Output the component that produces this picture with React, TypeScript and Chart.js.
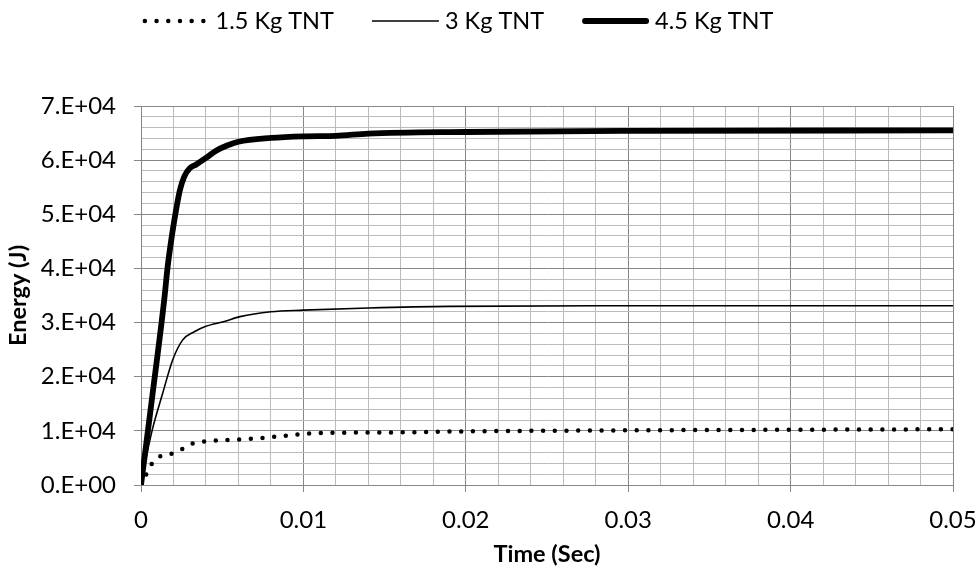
import React, { useEffect, useRef } from 'react';
import { Chart, registerables } from 'chart.js';

Chart.register(...registerables);

// ---- Data ----
const SERIES_LABELS = ['1.5 Kg TNT', '3 Kg TNT', '4.5 Kg TNT'];

const TIME_15 = [0, 0.0003, 0.00062, 0.00113, 0.0018, 0.0025, 0.0031, 0.0038, 0.0046, 0.006, 0.0075, 0.0096, 0.011, 0.015, 0.02, 0.03, 0.04, 0.05];
const ENERGY_15 = [0, 1800, 3700, 5200, 5700, 6600, 7600, 8000, 8200, 8400, 8700, 9300, 9600, 9700, 9900, 10100, 10200, 10300];

const TIME_3 = [0, 0.00035, 0.00072, 0.00133, 0.00195, 0.00257, 0.00328, 0.004, 0.00513, 0.0061, 0.008, 0.01, 0.014, 0.019, 0.03, 0.05];
const ENERGY_3 = [0, 5500, 10500, 16900, 23100, 26800, 28300, 29300, 30200, 31100, 32000, 32300, 32700, 33000, 33100, 33100];

const TIME_45 = [0, 0.0007, 0.00143, 0.00164, 0.0019, 0.00216, 0.0024, 0.00267, 0.003, 0.0034, 0.004, 0.0046, 0.0053, 0.006, 0.008, 0.01, 0.012, 0.014, 0.02, 0.03, 0.05];
const ENERGY_45 = [0, 16500, 34200, 40300, 46000, 50800, 54500, 57000, 58500, 59200, 60400, 61700, 62700, 63400, 64100, 64400, 64500, 64900, 65200, 65400, 65500];

const X_MAJOR_TICKS = [0, 0.01, 0.02, 0.03, 0.04, 0.05];
const X_MAJOR_LABELS = ['0', '0.01', '0.02', '0.03', '0.04', '0.05'];
const Y_MAJOR_TICKS = [0, 10000, 20000, 30000, 40000, 50000, 60000, 70000];
const Y_MAJOR_LABELS = ['0.E+00', '1.E+04', '2.E+04', '3.E+04', '4.E+04', '5.E+04', '6.E+04', '7.E+04'];

const X_TITLE = 'Time (Sec)';
const Y_TITLE = 'Energy (J)';

const FONT_FAMILY = 'Lato, "Open Sans", sans-serif';
const MAJOR_GRID = '#878787';
const MINOR_GRID = '#bcbcbc';

const toPoints = (xs: number[], ys: number[]) => xs.map((x, i) => ({ x, y: ys[i] }));

const findMajor = (v: number, list: number[], eps: number) => list.findIndex((m) => Math.abs(m - v) < eps);

const lineLegend = {
  id: 'lineLegend',
  afterDraw(chart: any) {
    const { ctx } = chart;
    const LINE = 67;
    const TGAP = 6;
    const IGAP = 38;
    const CENTER = 458;
    const Y = 21;
    ctx.save();
    ctx.font = `23.5px ${FONT_FAMILY}`;
    const items = chart.data.datasets.map((ds: any) => ({ ds, tw: ctx.measureText(ds.label).width }));
    const total = items.reduce((s: number, it: any) => s + LINE + TGAP + it.tw, 0) + IGAP * (items.length - 1);
    let x = CENTER - total / 2;
    for (const it of items) {
      const ds = it.ds;
      const inset = ds.borderCapStyle === 'round' ? ds.borderWidth / 2 : 0;
      ctx.beginPath();
      ctx.lineWidth = ds.borderWidth;
      ctx.strokeStyle = ds.borderColor;
      ctx.lineCap = ds.borderCapStyle || 'butt';
      ctx.setLineDash(ds.borderDash || []);
      ctx.moveTo(x + inset, Y);
      ctx.lineTo(x + LINE - inset, Y);
      ctx.stroke();
      ctx.setLineDash([]);
      ctx.fillStyle = '#000';
      ctx.textAlign = 'left';
      ctx.textBaseline = 'middle';
      ctx.fillText(ds.label, x + LINE + TGAP, Y);
      x += LINE + TGAP + it.tw + IGAP;
    }
    ctx.restore();
  },
};

export default function App() {
  const canvasRef = useRef<HTMLCanvasElement | null>(null);

  useEffect(() => {
    if (!canvasRef.current) return;
    const chart = new Chart(canvasRef.current, {
      type: 'line',
      data: {
        datasets: [
          {
            label: SERIES_LABELS[0],
            data: toPoints(TIME_15, ENERGY_15),
            borderColor: '#000',
            borderWidth: 4.5,
            borderDash: [0, 11.7],
            borderCapStyle: 'round',
            pointRadius: 0,
            cubicInterpolationMode: 'monotone',
            fill: false,
          },
          {
            label: SERIES_LABELS[1],
            data: toPoints(TIME_3, ENERGY_3),
            borderColor: '#000',
            borderWidth: 1.6,
            borderCapStyle: 'butt',
            pointRadius: 0,
            cubicInterpolationMode: 'monotone',
            fill: false,
          },
          {
            label: SERIES_LABELS[2],
            data: toPoints(TIME_45, ENERGY_45),
            borderColor: '#000',
            borderWidth: 5.8,
            borderCapStyle: 'round',
            pointRadius: 0,
            cubicInterpolationMode: 'monotone',
            fill: false,
          },
        ],
      } as any,
      plugins: [lineLegend as any],
      options: {
        animation: false,
        responsive: false,
        maintainAspectRatio: false,
        layout: { padding: { top: 106, right: 27, bottom: 0, left: 0 } },
        plugins: {
          legend: { display: false },
          tooltip: { enabled: false },
        },
        scales: {
          x: {
            type: 'linear',
            min: 0,
            max: 0.05,
            afterFit: (axis: any) => {
              axis.height = 89;
              axis.paddingLeft = 0;
              axis.paddingRight = 0;
            },
            ticks: {
              stepSize: 0.002,
              autoSkip: false,
              maxRotation: 0,
              minRotation: 0,
              padding: 14,
              color: '#000',
              font: { family: FONT_FAMILY, size: 24 },
              callback: (v: any) => {
                const i = findMajor(Number(v), X_MAJOR_TICKS, 1e-7);
                return i >= 0 ? X_MAJOR_LABELS[i] : '';
              },
            },
            grid: {
              color: (c: any) => (c.tick && findMajor(c.tick.value, X_MAJOR_TICKS, 1e-7) >= 0 ? MAJOR_GRID : MINOR_GRID),
              tickColor: (c: any) => (c.tick && findMajor(c.tick.value, X_MAJOR_TICKS, 1e-7) >= 0 ? MAJOR_GRID : 'rgba(0,0,0,0)'),
              lineWidth: 1,
              tickLength: 7,
            },
            border: { display: true, color: MAJOR_GRID, width: 1 },
            title: {
              display: true,
              text: X_TITLE,
              color: '#000',
              font: { family: FONT_FAMILY, size: 23.5, weight: 'bold' },
              padding: { top: 4, bottom: 5 },
            },
          },
          y: {
            type: 'linear',
            min: 0,
            max: 70000,
            afterFit: (axis: any) => {
              axis.width = 141;
            },
            ticks: {
              stepSize: 2000,
              autoSkip: false,
              padding: 18,
              color: '#000',
              font: { family: FONT_FAMILY, size: 24 },
              callback: (v: any) => {
                const i = findMajor(Number(v), Y_MAJOR_TICKS, 1e-3);
                return i >= 0 ? Y_MAJOR_LABELS[i] : '';
              },
            },
            grid: {
              color: (c: any) => (c.tick && findMajor(c.tick.value, Y_MAJOR_TICKS, 1e-3) >= 0 ? MAJOR_GRID : MINOR_GRID),
              tickColor: (c: any) => (c.tick && findMajor(c.tick.value, Y_MAJOR_TICKS, 1e-3) >= 0 ? MAJOR_GRID : 'rgba(0,0,0,0)'),
              lineWidth: 1,
              tickLength: 7,
            },
            border: { display: true, color: MAJOR_GRID, width: 1 },
            title: {
              display: true,
              text: Y_TITLE,
              color: '#000',
              font: { family: FONT_FAMILY, size: 23.5, weight: 'bold' },
              padding: { top: 4, bottom: 4 },
            },
          },
        },
      } as any,
    });
    return () => chart.destroy();
  }, []);

  return (
    <div style={{ position: 'fixed', left: 0, top: 0, width: 980, height: 574, background: '#fff' }}>
      <canvas ref={canvasRef} width={980} height={574} style={{ display: 'block', width: 980, height: 574 }} />
    </div>
  );
}
